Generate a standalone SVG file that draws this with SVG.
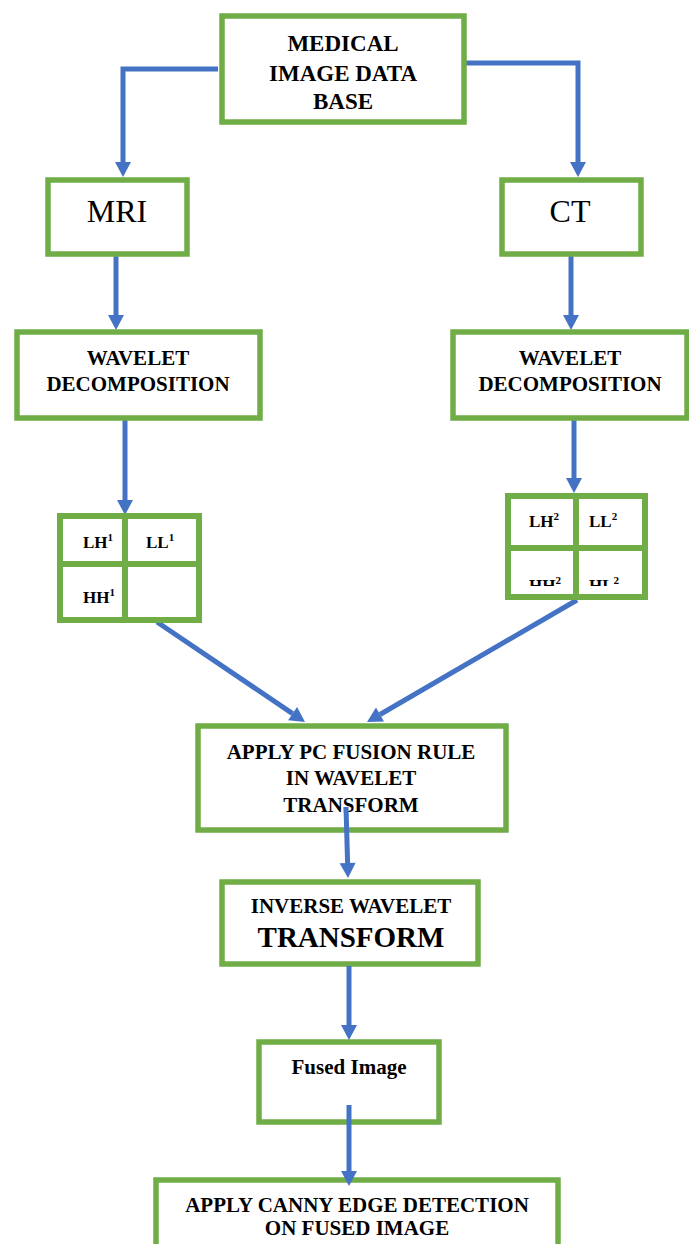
<svg xmlns="http://www.w3.org/2000/svg" width="689" height="1244" viewBox="0 0 689 1244">
<style>
.box{fill:#fff;stroke:#70AD47;stroke-width:5.5}
.cell{fill:none;stroke:#70AD47;stroke-width:6}
text{font-family:'Liberation Serif','DejaVu Serif',serif;fill:#000}
.t{font-weight:bold;text-anchor:middle;font-size:21px}
.g{font-weight:bold;font-size:17px}
.r{text-anchor:middle;font-size:32px}
.big{font-size:23px}
.tr{font-size:29px}
.c{fill:none;stroke:#4472C4;stroke-width:5}
</style>
<defs>
<marker id="ah" markerUnits="userSpaceOnUse" markerWidth="16" markerHeight="17" refX="0" refY="8" orient="auto" overflow="visible">
<path d="M0,0 L15,8 L0,16 Z" fill="#4472C4"/>
</marker>
<clipPath id="clipR"><rect x="505" y="548" width="143" height="38"/></clipPath>
</defs>
<g id="connectors">
<path class="c" d="M218,69 H123 V162" marker-end="url(#ah)"/>
<path class="c" d="M464,63 H578 V162" marker-end="url(#ah)"/>
<path class="c" d="M116,256 V315" marker-end="url(#ah)"/>
<path class="c" d="M571,256 V315" marker-end="url(#ah)"/>
<path class="c" d="M125,420 V500" marker-end="url(#ah)"/>
<path class="c" d="M574,420 V478" marker-end="url(#ah)"/>
<path class="c" d="M157,622 L292.6,713.6" marker-end="url(#ah)"/>
<path class="c" d="M577,600 L380,714.5" marker-end="url(#ah)"/>
</g>
<g id="node-db">
<rect class="box" x="222" y="16" width="242" height="106"/>
<text class="t big" x="343" y="51">MEDICAL</text>
<text class="t big" x="343" y="81">IMAGE DATA</text>
<text class="t big" x="343" y="109">BASE</text>
</g>
<g id="node-mri">
<rect class="box" x="48" y="180" width="139" height="74"/>
<text class="r" x="117" y="222">MRI</text>
</g>
<g id="node-ct">
<rect class="box" x="502" y="180" width="139" height="74"/>
<text class="r" x="570" y="222">CT</text>
</g>
<g id="node-wl">
<rect class="box" x="17" y="332" width="243" height="86"/>
<text class="t" x="138" y="365">WAVELET</text>
<text class="t" x="138" y="391">DECOMPOSITION</text>
</g>
<g id="node-wr">
<rect class="box" x="453" y="332" width="234" height="86"/>
<text class="t" x="570" y="365">WAVELET</text>
<text class="t" x="570" y="391">DECOMPOSITION</text>
</g>
<g id="node-grid1">
<rect class="cell" x="60" y="516" width="139" height="104" fill="#fff"/>
<line class="cell" x1="125" y1="516" x2="125" y2="620"/>
<line class="cell" x1="60" y1="564" x2="199" y2="564"/>
<text class="g" x="83" y="548">LH<tspan font-size="11" dy="-7">1</tspan></text>
<text class="g" x="146" y="548">LL<tspan font-size="11" dy="-7">1</tspan></text>
<text class="g" x="83" y="603">HH<tspan font-size="11" dy="-7">1</tspan></text>
</g>
<g id="node-grid2">
<rect class="cell" x="508" y="496" width="137" height="101" fill="#fff"/>
<line class="cell" x1="576" y1="496" x2="576" y2="597"/>
<line class="cell" x1="508" y1="548" x2="645" y2="548"/>
<text class="g" x="529" y="527">LH<tspan font-size="11" dy="-7">2</tspan></text>
<text class="g" x="589" y="527">LL<tspan font-size="11" dy="-7">2</tspan></text>
<g clip-path="url(#clipR)">
<text class="g" x="529" y="591">HH<tspan font-size="11" dy="-7">2</tspan></text>
<text class="g" x="589" y="591">HL<tspan font-size="11" dy="-7">2</tspan></text>
</g>
</g>
<g id="node-pc">
<rect class="box" x="198" y="726" width="308" height="104"/>
<text class="t" x="351" y="759">APPLY PC FUSION RULE</text>
<text class="t" x="351" y="785">IN WAVELET</text>
<text class="t" x="351" y="812">TRANSFORM</text>
</g>
<g id="node-inv">
<rect class="box" x="222" y="882" width="256" height="82"/>
<text class="t" x="351" y="913">INVERSE WAVELET</text>
<text class="t tr" x="351" y="947">TRANSFORM</text>
</g>
<g id="node-fused">
<rect class="box" x="259" y="1042" width="180" height="80"/>
<text class="t" x="349" y="1074">Fused Image</text>
</g>
<g id="node-canny">
<rect class="box" x="156" y="1180" width="402" height="90"/>
<text class="t" x="357" y="1212">APPLY CANNY EDGE DETECTION</text>
<text class="t" x="357" y="1235">ON FUSED IMAGE</text>
</g>
<g id="connectors-2">
<path class="c" d="M346,807 L347.6,863" marker-end="url(#ah)"/>
<path class="c" d="M349,966 V1025" marker-end="url(#ah)"/>
<path class="c" d="M349,1105 V1171" marker-end="url(#ah)"/>
</g>
</svg>
